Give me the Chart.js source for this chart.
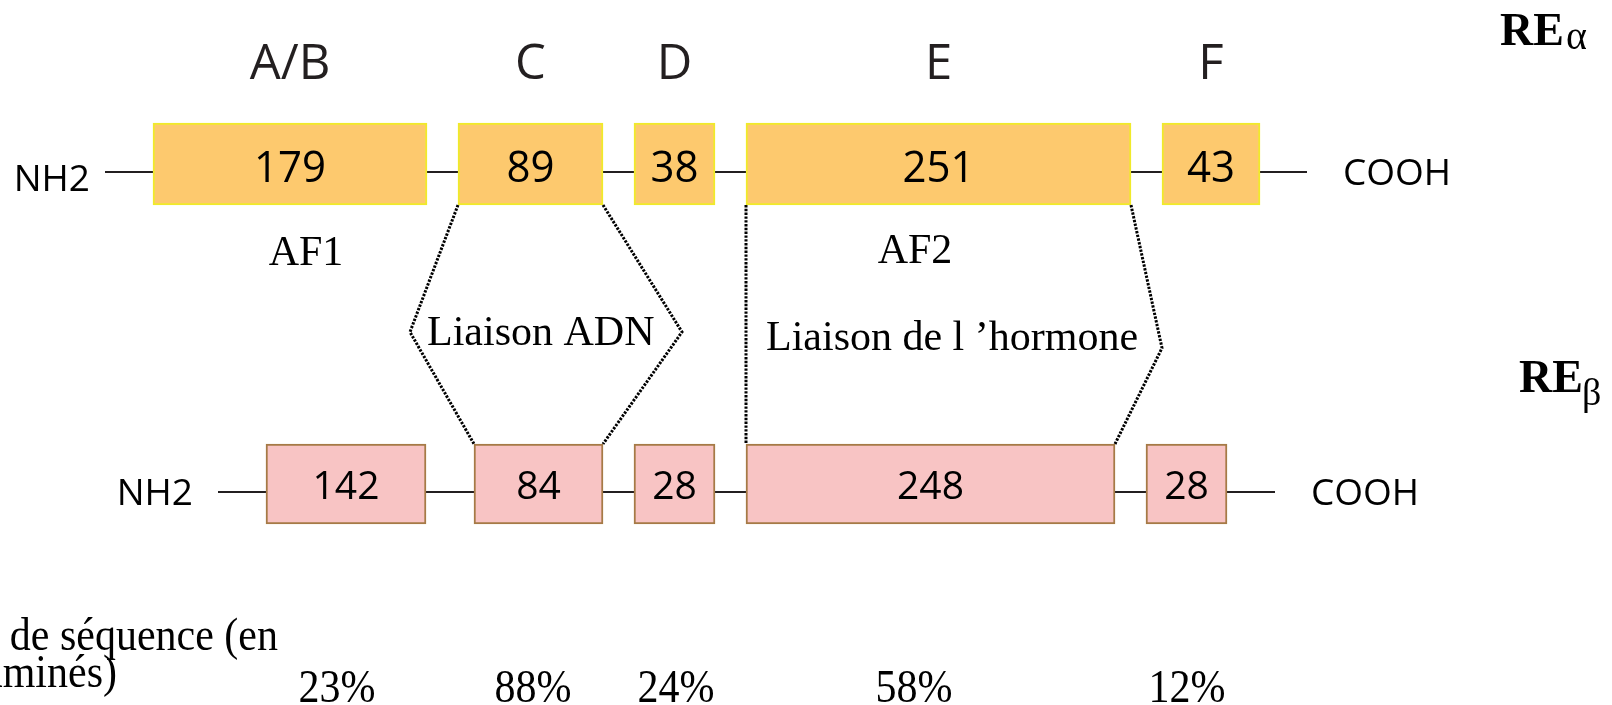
<!DOCTYPE html>
<html>
<head>
<meta charset="utf-8">
<script src="https://cdn.jsdelivr.net/npm/chart.js@4/dist/chart.umd.min.js"></script>
<style>
  html, body { margin: 0; padding: 0; background: #ffffff; }
  #wrap { position: relative; width: 1612px; height: 705px; }
</style>
</head>
<body>
<div id="wrap"><canvas id="c"></canvas></div>
<script>
// ---------- DATA ----------
const domains       = ['A/B', 'C', 'D', 'E', 'F'];
const alphaLengths  = [179, 89, 38, 251, 43];      // RE alpha: residues per domain
const betaLengths   = [142, 84, 28, 248, 28];      // RE beta: residues per domain
const identityPct   = [23, 88, 24, 58, 12];        // sequence identity (%)
// schematic domain extents (diagram units along the chain)
const alphaStart    = [153, 458, 634, 746, 1162];
const alphaEnd      = [427, 603, 715, 1131, 1260];
const betaStart     = [266, 474, 634, 746, 1146];
const betaEnd       = [426, 603, 715, 1115, 1227];
// chain termini (NH2 ... COOH)
const chainStart    = [105, 218];
const chainEnd      = [1307, 1275];

// ---------- LAYOUT / STYLE ----------
const L = {
  rowY: [164, 484], rowThick: [82, 80], chainY: [172, 492],
  // correspondence connectors: [domain index, side, bendX, bendY]
  connectors: [[1, 'start', 410, 332], [1, 'end', 682, 332], [3, 'start', null, null], [3, 'end', 1162, 348]],
  pctCenters: [337, 533, 676, 914, 1187]
};
const SANS = '"Open Sans", "Noto Sans", sans-serif';
const SERIF = '"Liberation Serif", "Times New Roman", serif';
const DARK = '#231f20';

const alphaData = domains.map((d, i) => ({ x: [alphaStart[i], alphaEnd[i]], y: L.rowY[0] }));
const betaData  = domains.map((d, i) => ({ x: [betaStart[i], betaEnd[i]], y: L.rowY[1] }));

function edge(arrS, arrE, i, side) { return side === 'start' ? arrS[i] : arrE[i]; }
const connectorSets = L.connectors.map(([i, side, bx, by]) => {
  const top = { x: edge(alphaStart, alphaEnd, i, side), y: L.rowY[0] + L.rowThick[0] / 2 };
  const bot = { x: edge(betaStart, betaEnd, i, side), y: L.rowY[1] - L.rowThick[1] / 2 };
  const pts = bx === null ? [top, bot] : [top, { x: bx, y: by }, bot];
  return {
    type: 'line', data: pts, borderColor: '#000', borderWidth: 3, borderDash: [2.4, 1.4],
    pointRadius: 0, tension: 0, fill: false, order: 3
  };
});

const chainSets = [0, 1].map(r => ({
  type: 'line',
  data: [{ x: chainStart[r], y: L.chainY[r] }, { x: chainEnd[r], y: L.chainY[r] }],
  borderColor: DARK, borderWidth: 2, pointRadius: 0, fill: false, order: 2
}));

const textPlugin = {
  id: 'texts',
  afterDatasetsDraw(chart) {
    const ctx = chart.ctx, sx = chart.scales.x, sy = chart.scales.y;
    const X = v => sx.getPixelForValue(v), Y = v => sy.getPixelForValue(v);
    function t(s, x, y, font, align, color, stretch) {
      ctx.save();
      ctx.font = font; ctx.textAlign = align || 'center'; ctx.textBaseline = 'alphabetic';
      ctx.fillStyle = color || DARK;
      const k = stretch || 1;
      ctx.translate(x, y); ctx.scale(1, k); ctx.fillText(s, 0, 0);
      ctx.restore();
    }
    // domain letters
    domains.forEach((d, i) => t(d, X((alphaStart[i] + alphaEnd[i]) / 2), Y(79), '49px ' + SANS));
    // lengths in boxes
    alphaLengths.forEach((v, i) => t(String(v), X((alphaStart[i] + alphaEnd[i]) / 2), Y(182), '42px ' + SANS, 'center', '#000', 1.05));
    betaLengths.forEach((v, i) => t(String(v), X((betaStart[i] + betaEnd[i]) / 2), Y(499), '39px ' + SANS, 'center', '#000'));
    // termini
    t('NH2', X(chainStart[0] - 15), Y(191), '37px ' + SANS, 'right', '#000');
    t('COOH', X(chainEnd[0] + 36), Y(185), '37px ' + SANS, 'left', '#000');
    t('NH2', X(chainStart[1] - 25), Y(505), '37px ' + SANS, 'right', '#000');
    t('COOH', X(chainEnd[1] + 36), Y(505), '37px ' + SANS, 'left', '#000');
    // functional annotations
    t('AF1', X(306), Y(265), '42px ' + SERIF, 'center', '#000');
    t('AF2', X(915), Y(263), '42px ' + SERIF, 'center', '#000');
    t('Liaison ADN', X(427), Y(345), '42px ' + SERIF, 'left', '#000');
    t('Liaison de l \u2019hormone', X(766), Y(350), '42px ' + SERIF, 'left', '#000');
    // receptor names
    t('RE', X(1500), Y(45), 'bold 46px ' + SERIF, 'left', '#000');
    t('\u03b1', X(1566), Y(49), '40px ' + SERIF, 'left', '#000');
    t('RE', X(1519), Y(392), 'bold 46px ' + SERIF, 'left', '#000');
    t('\u03b2', X(1582), Y(405), '38px ' + SERIF, 'left', '#000');
    // identity
    t('Homologie de s\u00e9quence (en', X(278), Y(650), '42px ' + SERIF, 'right', '#000', 1.1);
    t('acides amin\u00e9s)', X(117), Y(687), '42px ' + SERIF, 'right', '#000', 1.1);
    identityPct.forEach((p, i) => t(p + '%', X(L.pctCenters[i]), Y(702), '42px ' + SERIF, 'center', '#000', 1.1));
  }
};

new Chart(document.getElementById('c'), {
  type: 'bar',
  data: {
    datasets: [
      {
        label: 'RE\u03b1', indexAxis: 'y', grouped: false, data: alphaData,
        backgroundColor: '#fdc96e', borderColor: '#f0ea2a', borderWidth: 2,
        borderSkipped: false, barThickness: L.rowThick[0], order: 1
      },
      {
        label: 'RE\u03b2', indexAxis: 'y', grouped: false, data: betaData,
        backgroundColor: '#f8c4c4', borderColor: '#a67a46', borderWidth: 2,
        borderSkipped: false, barThickness: L.rowThick[1], order: 1
      },
      ...chainSets,
      ...connectorSets
    ]
  },
  options: {
    responsive: true, maintainAspectRatio: false, animation: false, devicePixelRatio: 1,
    layout: { padding: 0 },
    plugins: { legend: { display: false }, tooltip: { enabled: false } },
    scales: {
      x: { type: 'linear', min: 0, max: 1612, display: false, offset: false, grid: { offset: false } },
      y: { type: 'linear', min: 0, max: 705, reverse: true, display: false, offset: false, grid: { offset: false } }
    }
  },
  plugins: [textPlugin]
});
</script>
</body>
</html>
